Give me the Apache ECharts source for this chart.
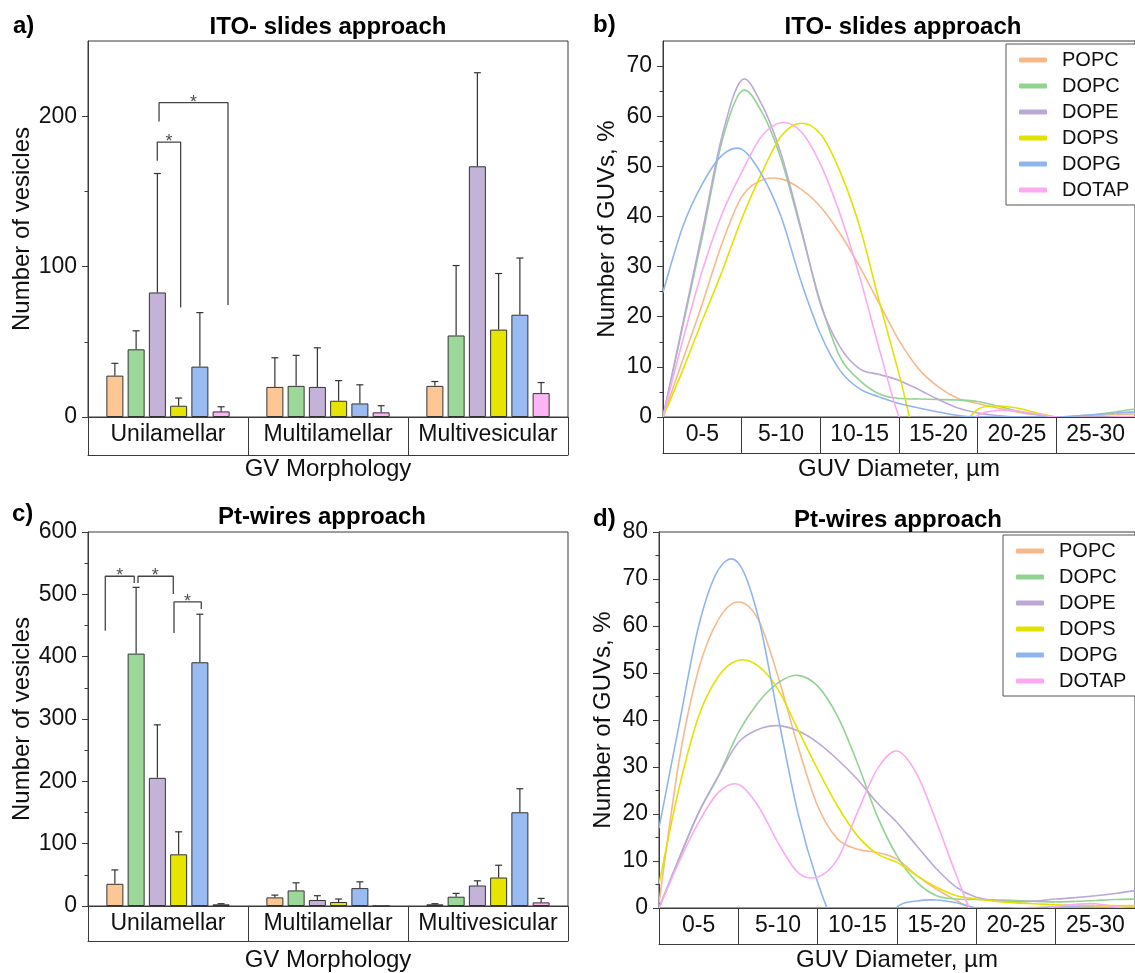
<!DOCTYPE html>
<html><head><meta charset="utf-8">
<script src="https://cdn.jsdelivr.net/npm/echarts@6/dist/echarts.min.js"></script>
<style>html,body{margin:0;padding:0;background:#fff}#c{width:1135px;height:973px}</style>
</head><body><div id="c"></div>
<script>
// ---------- data ----------
const lipids = ['POPC', 'DOPC', 'DOPE', 'DOPS', 'DOPG', 'DOTAP'];
const morphologies = ['Unilamellar', 'Multilamellar', 'Multivesicular'];
const sizeBins = ['0-5', '5-10', '10-15', '15-20', '20-25', '25-30'];

// number of vesicles (rows: lipids, cols: morphologies)
const itoMean = [[27.5, 20, 20.7], [45, 20.7, 54.2], [82.8, 20, 166.7], [7.5, 10.8, 58.1], [33.5, 9, 68], [3.7, 3.1, 15.9]];
const itoErr  = [[8.2, 19.4, 2.9], [12.3, 20.3, 46.5], [79.1, 26, 62.2], [5.1, 13.4, 37.3], [35.9, 12.4, 37.7], [3.1, 4.4, 7]];
const ptMean  = [[35.6, 13.8, 2.7], [404.9, 25, 14.9], [205.6, 9.6, 32.9], [82.9, 6.4, 45.7], [391, 28.7, 150.4], [2.7, 0, 5.8]];
const ptErr   = [[22.3, 3.7, 1], [106.3, 12.2, 5.3], [85, 6.9, 7.5], [36.1, 4.8, 19.7], [77.1, 10.1, 37.7], [1, 0, 6.4]];

// size distribution curves (GUV diameter in µm vs % of GUVs)
const diameters = [0, 1.25, 2.5, 3.75, 5, 6.25, 7.5, 8.75, 10, 11.25, 12.5, 13.75, 15, 16.25, 17.5, 18.75, 20, 21.25, 22.5, 23.75, 25, 26.25, 27.5, 28.75, 30];
const itoDist = [
  [0, 11.3, 22.6, 34.6, 43.9, 47.2, 47.5, 45.5, 42, 36.6, 30, 22.6, 15.3, 9.6, 6, 3.7, 2.7, 1.8, 1, 0.4, 0, 0.1, 0.3, 0.5, 0.6],
  [0, 18, 36, 55, 65, 61, 51.5, 37.5, 23, 12, 7.3, 4.6, 3.7, 3.6, 3.5, 3.4, 3.1, 2.2, 1.2, 0.5, 0, 0.2, 0.5, 1, 1.6],
  [0, 18.5, 37, 56, 67.2, 62.5, 52.5, 38, 22.6, 14, 9.6, 8.5, 7.3, 5.5, 3.5, 1.8, 0.8, 0.3, 0, 0, 0, 0, 0, 0, 0],
  [0, 9.3, 19.3, 29, 39.5, 48.5, 56, 58.6, 56.5, 49, 38, 23, 8.6, -6, -8, -3, 1.5, 2.2, 1.8, 0.8, 0, -0.5, -0.5, -0.3, 0],
  [24.9, 37.9, 46.5, 52.2, 53.4, 48.5, 40, 27.3, 16.6, 9.3, 5.6, 4, 2.7, 1.8, 1, 0.3, 0, 0, 0, 0, 0, 0.2, 0.5, 0.8, 1],
  [0, 15.2, 29.2, 40.5, 48.8, 55.9, 58.7, 57, 50.5, 40.5, 28, 13.5, 0, -8, -8, -4, 0.3, 1.3, 1.2, 0.6, 0, -0.3, -0.3, 0, 0]
];
const ptDist = [
  [1, 31, 50.8, 61.4, 65.1, 61.4, 49.3, 34.5, 21.7, 14.7, 12.5, 11.8, 10.4, 6.9, 4, 1.6, -0.5, -0.5, 0, 0.1, 0.2, 0.2, 0.2, 0.2, 0.2],
  [0, 10.4, 20.3, 28.1, 37.3, 43.7, 47.9, 49.5, 47.2, 40.8, 30.9, 19.6, 11.1, 5.5, 2.6, 1.9, 1.8, 1.7, 1.6, 1.4, 1.3, 1.4, 1.6, 1.8, 1.9],
  [0, 10.4, 20.3, 28.1, 35.2, 38, 38.8, 37.7, 35.2, 31.6, 27.4, 22.4, 18.2, 13.2, 8.3, 4.4, 2.3, 1.6, 1.3, 1.5, 1.9, 2.2, 2.6, 3.1, 3.7],
  [5.1, 25.3, 40.8, 49.3, 52.7, 51.5, 46.5, 38, 29.5, 21.7, 15.4, 11.5, 9.7, 6.9, 4.4, 2.6, 1.9, 1.4, 1.1, 0.9, 0.7, 0.6, 0.5, 0.5, 0.5],
  [17, 38.7, 60, 72, 73.4, 62, 40.8, 20.3, 5.5, -5, -10, -6, 0.2, 1.5, 1.7, 1.1, 0, -0.5, -0.3, 0, 0.2, 0.2, 0.1, 0, 0],
  [0, 9.7, 18.2, 24.6, 26.3, 21.7, 13.9, 7.6, 6.6, 10.4, 20.3, 29.5, 33.4, 28.5, 18.2, 6.9, -3, -5, -3, -1, 0.3, 0.8, 0.9, 0.3, -0.5]
];

// significance brackets, in (category units, vesicle count)
const itoBrackets = [
  [[0.433, 170.4], [0.433, 182.8], [0.579, 182.8], [0.579, 72.8]],
  [[0.444, 196.4], [0.444, 209], [0.875, 209], [0.875, 74.4]]
];
const itoStars = [[0.506, 182.8], [0.66, 209]];
const ptBrackets = [
  [[0.108, 441.6], [0.108, 529], [0.289, 529], [0.289, 518]],
  [[0.3125, 518], [0.3125, 529], [0.533, 529], [0.533, 500.5]],
  [[0.5375, 438], [0.5375, 487.8], [0.708, 487.8], [0.708, 476.6]]
];
const ptStars = [[0.198, 529], [0.42, 529], [0.622, 487.8]];

// ticks
const itoCountTicks = [0, 100, 200], itoCountMinor = [50, 150];
const ptCountTicks = [0, 100, 200, 300, 400, 500, 600], ptCountMinor = [50, 150, 250, 350, 450, 550];
const itoPctTicks = [0, 10, 20, 30, 40, 50, 60, 70], itoPctMinor = [5, 15, 25, 35, 45, 55, 65];
const ptPctTicks = [0, 10, 20, 30, 40, 50, 60, 70, 80], ptPctMinor = [5, 15, 25, 35, 45, 55, 65, 75];

// ---------- style ----------
const FONT = "'Liberation Sans', Arial, sans-serif";
const INK = '#111';
const AX = '#3a3a3a';
const barColors = ['#FCC794', '#9DD89B', '#C4B3D9', '#E5E500', '#9ABBF2', '#FDB5F6'];
const lineColors = ['#F8B98A', '#92D392', '#BCA8D5', '#E2E200', '#8FB5F0', '#FCA9F2'];
const BAR_W = 17, BAR_STEP = 21.25;

const grids = [
  {left: 88, top: 41, width: 480, height: 376},
  {left: 663, top: 41, width: 480, height: 376},
  {left: 88, top: 532, width: 480, height: 376},
  {left: 659, top: 532, width: 480, height: 377}
].map(g => Object.assign(g, {show: true, borderColor: AX, borderWidth: 1, backgroundColor: 'transparent', containLabel: false}));

function catAxis(gi, data, boxH, name, nameGap) {
  return {
    gridIndex: gi, type: 'category', data: data, position: 'bottom', boundaryGap: true,
    axisLine: {show: true, lineStyle: {color: AX, width: 1}},
    axisTick: {show: true, length: boxH, interval: 0, alignWithLabel: false, lineStyle: {color: AX, width: 1}},
    axisLabel: {show: true, interval: 0, fontSize: 23, color: INK, margin: 6, fontFamily: FONT},
    splitLine: {show: false},
    name: name, nameLocation: 'middle', nameGap: nameGap,
    nameTextStyle: {fontSize: 24, color: INK, fontFamily: FONT}
  };
}
function boxAxis(gi, min, max, off) {
  return {
    gridIndex: gi, type: 'value', min: min, max: max, position: 'bottom', offset: off,
    axisLine: {show: true, onZero: false, lineStyle: {color: AX, width: 1}},
    axisTick: {show: false}, axisLabel: {show: false}, splitLine: {show: false}
  };
}
function valAxis(gi, max, ticks, name, nameGap) {
  return {
    gridIndex: gi, type: 'value', min: 0, max: max, position: 'left',
    axisLine: {show: true, onZero: false, lineStyle: {color: AX, width: 1}},
    axisTick: {show: true, length: 6, customValues: ticks, lineStyle: {color: AX, width: 1}},
    axisLabel: {show: true, customValues: ticks, fontSize: 23, color: INK, margin: 11, fontFamily: FONT},
    splitLine: {show: false},
    name: name, nameLocation: 'middle', nameGap: nameGap,
    nameTextStyle: {fontSize: 24, color: INK, fontFamily: FONT}
  };
}
function minorAxis(gi, max, ticks) {
  return {
    gridIndex: gi, type: 'value', min: 0, max: max, position: 'left',
    axisLine: {show: false},
    axisTick: {show: true, length: 3.5, customValues: ticks, lineStyle: {color: AX, width: 1}},
    axisLabel: {show: false}, splitLine: {show: false}
  };
}

const xAxes = [
  catAxis(0, morphologies, 38, 'GV Morphology', 40),   // 0
  boxAxis(0, 0, 3, 38),                                 // 1
  catAxis(1, sizeBins, 36, 'GUV Diameter, µm', 40),    // 2
  boxAxis(1, 0, 30, 36),                                // 3
  catAxis(2, morphologies, 35, 'GV Morphology', 42),   // 4
  boxAxis(2, 0, 3, 35),                                 // 5
  catAxis(3, sizeBins, 36, 'GUV Diameter, µm', 40),    // 6
  boxAxis(3, 0, 30, 36)                                 // 7
];
const yAxes = [
  valAxis(0, 250, itoCountTicks, 'Number of vesicles', 54),
  valAxis(1, 75, itoPctTicks, 'Number of GUVs, %', 44),
  valAxis(2, 600, ptCountTicks, 'Number of vesicles', 54),
  valAxis(3, 80, ptPctTicks, 'Number of GUVs, %', 44),
  minorAxis(0, 250, itoCountMinor),
  minorAxis(1, 75, itoPctMinor),
  minorAxis(2, 600, ptCountMinor),
  minorAxis(3, 80, ptPctMinor)
];

const series = [];
// smooth spline curve drawn through the data points (pixel positions come from api.coord)
function splineRender(color) {
  return function (params, api) {
    if (params.dataIndexInside !== 0) return null;
    const n = params.dataInsideLength;
    const p = [];
    for (let k = 0; k < n; k++) p.push(api.coord([api.value(0, k), api.value(1, k)]));
    const kids = [];
    for (let k = 0; k < n - 1; k++) {
      const p0 = p[Math.max(0, k - 1)], p1 = p[k], p2 = p[k + 1], p3 = p[Math.min(n - 1, k + 2)];
      kids.push({
        type: 'bezierCurve',
        shape: {
          x1: p1[0], y1: p1[1], x2: p2[0], y2: p2[1],
          cpx1: p1[0] + (p2[0] - p0[0]) / 6, cpy1: p1[1] + (p2[1] - p0[1]) / 6,
          cpx2: p2[0] - (p3[0] - p1[0]) / 6, cpy2: p2[1] - (p3[1] - p1[1]) / 6
        },
        style: {stroke: color, lineWidth: 1.6, fill: null}
      });
    }
    return {type: 'group', children: kids};
  };
}
function addCurves(dist, xi, yi) {
  lipids.forEach((n, i) => {
    series.push({
      name: n, type: 'custom', xAxisIndex: xi, yAxisIndex: yi, clip: true, silent: true, z: 3,
      data: diameters.map((d, k) => [d, dist[i][k]]),
      encode: {x: 0, y: 1},
      itemStyle: {color: lineColors[i]},
      renderItem: splineRender(lineColors[i])
    });
  });
}
addCurves(itoDist, 3, 1);
addCurves(ptDist, 7, 3);

function addBars(mean, err, xi, yi) {
  lipids.forEach((n, i) => {
    series.push({
      name: n, type: 'bar', xAxisIndex: xi, yAxisIndex: yi,
      data: mean[i], barWidth: BAR_W, barGap: '25%', silent: true,
      itemStyle: {color: barColors[i], borderColor: '#333', borderWidth: 1}, z: 2
    });
  });
  const eb = [];
  lipids.forEach((n, i) => morphologies.forEach((m, j) => eb.push([j, mean[i][j], err[i][j], i])));
  series.push({
    type: 'custom', xAxisIndex: xi, yAxisIndex: yi, data: eb, silent: true, z: 4,
    encode: {x: 0, y: 1},
    renderItem: function (params, api) {
      const cat = api.value(0), v = api.value(1), e = api.value(2), li = api.value(3);
      if (!e) return null;
      const p0 = api.coord([cat, v]);
      const p1 = api.coord([cat, v + e]);
      const x = p0[0] + (li - 2.5) * BAR_STEP;
      const st = {stroke: '#333', lineWidth: 1.2, fill: null};
      return {type: 'group', children: [
        {type: 'line', shape: {x1: x, y1: p0[1], x2: x, y2: p1[1]}, style: st},
        {type: 'line', shape: {x1: x - 3.5, y1: p1[1], x2: x + 3.5, y2: p1[1]}, style: st}
      ]};
    }
  });
}
addBars(itoMean, itoErr, 0, 0);
addBars(ptMean, ptErr, 4, 2);

function addBrackets(brs, stars, xi, yi) {
  brs.forEach(b => series.push({
    type: 'line', xAxisIndex: xi, yAxisIndex: yi, data: b, symbol: 'none', silent: true,
    lineStyle: {color: '#444', width: 1.3}, z: 5
  }));
  series.push({
    type: 'scatter', xAxisIndex: xi, yAxisIndex: yi, data: stars, symbolSize: 1, silent: true,
    itemStyle: {color: 'rgba(0,0,0,0)'}, z: 5,
    label: {show: true, position: 'inside', formatter: '*', fontSize: 18, color: '#222', fontFamily: FONT}
  });
}
addBrackets(itoBrackets, itoStars, 1, 0);
addBrackets(ptBrackets, ptStars, 5, 2);

function legendAt(left, top) {
  return {
    orient: 'vertical', left: left, top: top, selectedMode: false,
    data: lipids.map((n, i) => ({name: n, icon: 'roundRect', itemStyle: {color: lineColors[i]}})),
    itemWidth: 28, itemHeight: 5, itemGap: 6,
    padding: [6, 40, 5, 13],
    borderColor: '#555', borderWidth: 1, backgroundColor: '#fff',
    textStyle: {fontSize: 20, lineHeight: 20, color: INK, fontFamily: FONT, padding: [0, 0, 0, 10]}
  };
}

function txt(x, y, s, bold, align) {
  return {type: 'text', x: x, y: y, silent: true, z: 10,
    style: {text: s, font: (bold ? 'bold ' : '') + '24px ' + FONT, fill: '#000', align: align || 'center', verticalAlign: 'middle'}};
}

const option = {
  animation: false,
  backgroundColor: '#fff',
  textStyle: {fontFamily: FONT},
  grid: grids,
  xAxis: xAxes,
  yAxis: yAxes,
  legend: [legendAt(1006, 44), legendAt(1003, 535)],
  series: series,
  graphic: [
    txt(13, 26, 'a)', true, 'left'),
    txt(328, 27, 'ITO- slides approach', true),
    txt(593, 25, 'b)', true, 'left'),
    txt(903, 27, 'ITO- slides approach', true),
    txt(12, 514, 'c)', true, 'left'),
    txt(322, 517, 'Pt-wires approach', true),
    txt(593, 519, 'd)', true, 'left'),
    txt(898, 520, 'Pt-wires approach', true)
  ]
};
const chart = echarts.init(document.getElementById('c'), null, {renderer: 'canvas'});
chart.setOption(option);
</script>
</body></html>
